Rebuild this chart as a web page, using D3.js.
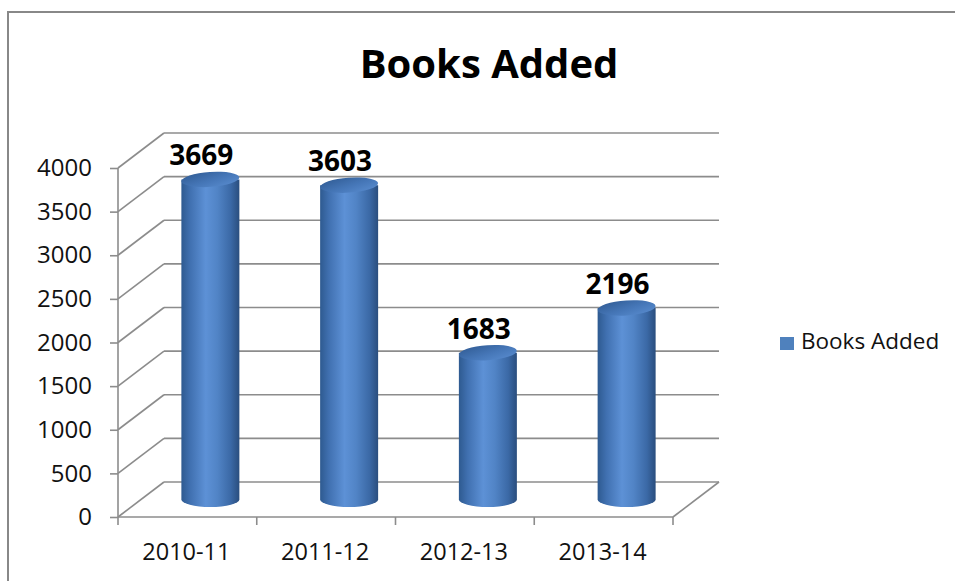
<!DOCTYPE html>
<html>
<head>
<meta charset="utf-8">
<script src="https://cdn.jsdelivr.net/npm/d3@7"></script>
<style>
  body { margin: 0; background: #fff; }
  svg { display: block; font-family: "Open Sans", sans-serif; }
</style>
</head>
<body>
<svg id="chart" width="955" height="581"></svg>
<script>
// data
const categories = ['2010-11', '2011-12', '2012-13', '2013-14'];
const booksAdded = [3669, 3603, 1683, 2196];
const yTicks = [0, 500, 1000, 1500, 2000, 2500, 3000, 3500, 4000];
const seriesName = 'Books Added';

const svg = d3.select('#chart');

// plot box (front plane) and depth offset
const x0 = 118, x1 = 673, yBottom = 517, yTop = 168;
const dx = 46, dy = -35;

const xScale = d3.scaleBand().domain(categories).range([x0, x1]);
const yScale = d3.scaleLinear().domain([0, 4000]).range([yBottom, yTop]);

const gridColor = '#8c8c8c';

// outer frame
svg.append('path')
  .attr('d', 'M8,581 L8,12 L955,12')
  .style('fill', 'none')
  .style('stroke', '#888')
  .style('stroke-width', 2);

// title
svg.append('text')
  .attr('x', 489)
  .attr('y', 78)
  .attr('text-anchor', 'middle')
  .style('font-size', '40px')
  .style('font-weight', 'bold')
  .text('Books Added');

const grid = svg.append('g')
  .style('stroke', gridColor)
  .style('stroke-width', 1.6)
  .style('fill', 'none');

// back wall gridlines
grid.selectAll('.back-grid')
  .data(yTicks)
  .enter()
  .append('line')
  .attr('x1', x0 + dx)
  .attr('x2', x1 + dx)
  .attr('y1', d => yScale(d) + dy)
  .attr('y2', d => yScale(d) + dy);

// side wall diagonals
grid.selectAll('.side-grid')
  .data(yTicks)
  .enter()
  .append('line')
  .attr('x1', x0)
  .attr('x2', x0 + dx)
  .attr('y1', d => yScale(d))
  .attr('y2', d => yScale(d) + dy);

// floor front and right edge
grid.append('line')
  .attr('x1', x0).attr('x2', x1)
  .attr('y1', yBottom).attr('y2', yBottom);
grid.append('line')
  .attr('x1', x1).attr('x2', x1 + dx)
  .attr('y1', yBottom).attr('y2', yBottom + dy);

// y axis
const yAxis = svg.append('g')
  .attr('transform', `translate(${x0},0)`)
  .call(d3.axisLeft(yScale).tickValues(yTicks).tickSize(8).tickPadding(18).tickFormat(d3.format('d')));
yAxis.selectAll('line, path').style('stroke', gridColor).style('stroke-width', 1.6);
yAxis.select('.domain').attr('d', `M0,${yTop}V${yBottom}`);
yAxis.selectAll('.tick text')
  .style('font-family', '"Open Sans", sans-serif')
  .style('font-size', '24px')
  .style('fill', '#111');

// x axis ticks at band boundaries
const xBounds = categories.map(c => xScale(c)).concat([x1]);
svg.append('g')
  .selectAll('line')
  .data(xBounds)
  .enter()
  .append('line')
  .attr('x1', d => d).attr('x2', d => d)
  .attr('y1', yBottom).attr('y2', yBottom + 8)
  .style('stroke', gridColor)
  .style('stroke-width', 1.6);

svg.append('g')
  .selectAll('text')
  .data(categories)
  .enter()
  .append('text')
  .attr('x', d => xScale(d) + xScale.bandwidth() / 2 - 1)
  .attr('y', 560)
  .attr('text-anchor', 'middle')
  .style('font-size', '23.5px')
  .style('fill', '#111')
  .text(d => d);

// gradients
const defs = svg.append('defs');
const bodyGrad = defs.append('linearGradient').attr('id', 'body-grad')
  .attr('x1', '0%').attr('x2', '100%').attr('y1', '0%').attr('y2', '0%');
[['0%', '#2e5a90'], ['15%', '#4070b0'], ['42%', '#5d91d6'], ['62%', '#5184c6'], ['85%', '#3b69a6'], ['100%', '#2a4e7e']]
  .forEach(s => bodyGrad.append('stop').attr('offset', s[0]).attr('stop-color', s[1]));
const topGrad = defs.append('linearGradient').attr('id', 'top-grad')
  .attr('x1', '0%').attr('x2', '100%').attr('y1', '0%').attr('y2', '100%');
[['0%', '#2f5a92'], ['55%', '#4677b8'], ['100%', '#5a8dd0']]
  .forEach(s => topGrad.append('stop').attr('offset', s[0]).attr('stop-color', s[1]));

// cylinders
const rx = 29, ry = 7.5;
const cyl = svg.append('g')
  .selectAll('g')
  .data(booksAdded)
  .enter()
  .append('g');

const cx = (d, i) => xScale(categories[i]) + xScale.bandwidth() / 2 + dx / 2;
const base = yScale(0) + dy / 2;
const topY = d => yScale(d) + dy / 2;

cyl.append('path')
  .attr('d', (d, i) => {
    const c = cx(d, i);
    return `M${c - rx},${topY(d)} L${c - rx},${base} A${rx},${ry} 0 0 0 ${c + rx},${base} L${c + rx},${topY(d)} Z`;
  })
  .style('fill', 'url(#body-grad)');

cyl.append('ellipse')
  .attr('cx', (d, i) => cx(d, i))
  .attr('cy', d => topY(d))
  .attr('rx', rx)
  .attr('ry', ry)
  .attr('transform', (d, i) => `rotate(-4,${cx(d, i)},${topY(d)})`)
  .style('fill', 'url(#top-grad)');

// value labels
cyl.append('text')
  .attr('x', (d, i) => cx(d, i) - 9)
  .attr('y', d => topY(d) - 14)
  .attr('text-anchor', 'middle')
  .style('font-size', '28px')
  .style('font-weight', 'bold')
  .style('fill', '#000')
  .text(d => d);

// legend
svg.append('rect')
  .attr('x', 780).attr('y', 337)
  .attr('width', 14).attr('height', 13)
  .style('fill', '#4f81bd');
svg.append('text')
  .attr('x', 801).attr('y', 349)
  .style('font-size', '22.5px')
  .style('fill', '#111')
  .text(seriesName);
</script>
</body>
</html>
